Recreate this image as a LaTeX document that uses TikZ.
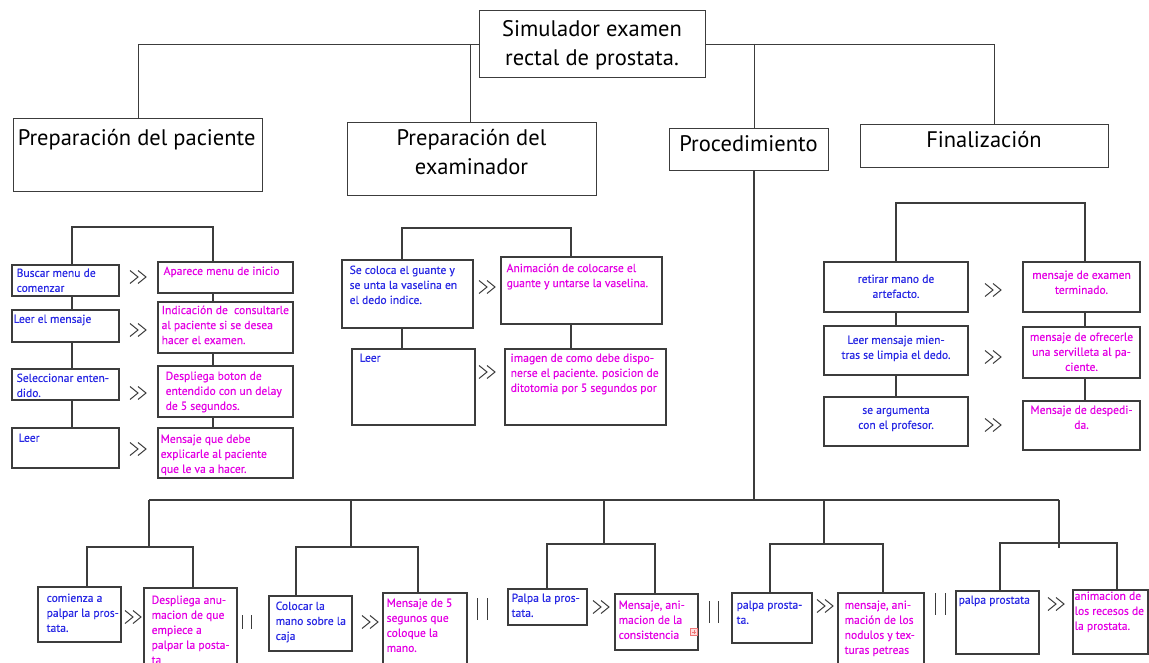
\documentclass[tikz,border=0pt]{standalone}
\usepackage{fontspec}
\setmainfont{PT Sans}
\newfontfamily\boxfont[FakeBold=0.35]{PT Sans}
\usetikzlibrary{fit}
\definecolor{tblue}{RGB}{40,40,228}
\definecolor{tmag}{RGB}{228,0,228}
\definecolor{lgray}{RGB}{60,60,60}
\definecolor{iconred}{RGB}{240,120,120}
\definecolor{iconfill}{RGB}{255,222,222}
\tikzset{
  boxst/.style={draw=lgray, line width=1.1pt, fill=white, inner sep=0pt},
  hdrbox/.style={draw=lgray, line width=0.9pt, fill=white, inner sep=0pt},
  link/.style={draw=lgray, line width=1.2pt},
  thinlink/.style={draw=lgray, line width=0.8pt},
  bt/.style={text=tblue, font=\boxfont\fontsize{11.6}{15}\selectfont, align=left, inner sep=0pt, anchor=north west},
  mt/.style={text=tmag, font=\boxfont\fontsize{11.6}{15}\selectfont, align=left, inner sep=0pt, anchor=north west},
  hdr/.style={font=\fontsize{22.5}{29}\selectfont, text=black, inner sep=0pt, align=center, anchor=north},
  chevst/.style={draw=lgray, line width=1pt},
}
\newcommand\mybox[5]{\node[boxst, fit={(#2,#3)(#4,#5)}] (#1) {};}
\newcommand\myhbox[5]{\node[hdrbox, fit={(#2,#3)(#4,#5)}] (#1) {};}
\newcommand\txtnw[5]{\node[#1] (#2-t) at ([xshift=#3pt,yshift=-#4pt]#2.north west) {#5};}
\newcommand\txtc[4]{\node[#1, align=center, anchor=north] (#2-t) at ([yshift=-#3pt]#2.north) {#4};}
\newcommand\chevs[2]{\draw[chevst] (#1-8,#2-6.5) -- (#1,#2) -- (#1-8,#2+6.5) (#1,#2-6.5) -- (#1+8,#2) -- (#1,#2+6.5);}
\newcommand\bars[4]{\draw[chevst] (#1,#3) -- (#1,#4) (#2,#3) -- (#2,#4);}
\begin{document}
\begin{tikzpicture}[x=1pt, y=-1pt]
\clip (0,0) rectangle (1149,663);
\fill[white] (0,0) rectangle (1149,663);

% ---------- header boxes ----------
\myhbox{H1}{13}{118}{262}{191}
\myhbox{H2}{347}{122}{596}{195}
\myhbox{H3}{669}{128}{828}{170}
\myhbox{H4}{860}{124}{1108}{167}

\coordinate (tl) at (138,44);
\coordinate (tr) at (994,44);
\coordinate (t2) at (470,44);
\coordinate (t3) at (754,44);
\draw[thinlink] (tl |- H1.north) -- (tl) -- (tr) -- (tr |- H4.north);
\draw[thinlink] (t2) -- (t2 |- H2.north);
\draw[thinlink] (t3) -- (t3 |- H3.north);

\myhbox{H0}{479}{10}{705}{77}
\node[hdr] (H0-t) at ([yshift=-11pt]H0.north) {Simulador examen\\rectal de prostata.};
\node[hdr, anchor=north west] (H1-t) at ([xshift=5pt,yshift=-12pt]H1.north west) {Preparación del paciente};
\node[hdr] (H2-t) at ([yshift=-8pt]H2.north) {Preparación del\\examinador};
\node[hdr] (H3-t) at ([yshift=-8pt]H3.north) {Procedimiento};
\node[hdr] (H4-t) at ([yshift=-8pt]H4.north) {Finalización};

% ---------- left column ----------
\mybox{L1}{12}{265}{119}{296}
\mybox{L2}{12}{310}{119}{342}
\mybox{L3}{12}{369}{119}{400}
\mybox{L4}{12}{428}{119}{468}
\mybox{R1}{158}{262}{293}{293}
\mybox{R2}{158}{302}{293}{353}
\mybox{R3}{158}{366}{293}{417}
\mybox{R4}{158}{428}{293}{478}
\coordinate (lbl) at (72,227);
\coordinate (lbr) at (213,227);
\draw[link] (lbl |- L1.north) -- (lbl) -- (lbr) -- (lbr |- R1.north);
\draw[link] (lbl |- L1.south) -- (lbl |- L2.north);
\draw[link] (lbl |- L2.south) -- (lbl |- L3.north);
\draw[link] (lbl |- L3.south) -- (lbl |- L4.north);
\draw[link] (lbr |- R1.south) -- (lbr |- R2.north);
\draw[link] (lbr |- R2.south) -- (lbr |- R3.north);
\draw[link] (lbr |- R3.south) -- (lbr |- R4.north);
\txtnw{bt}{L1}{5}{4}{Buscar menu de\\comenzar}
\txtnw{bt}{L2}{2}{5}{Leer el mensaje}
\txtnw{bt}{L3}{5}{5}{Seleccionar enten-\\dido.}
\txtnw{bt}{L4}{7}{6}{Leer}
\txtnw{mt}{R1}{6}{5}{Aparece menu de inicio}
\txtnw{mt}{R2}{4}{4}{Indicación de \ consultarle\\al paciente si se desea\\hacer el examen.}
\txtnw{mt}{R3}{8}{6}{Despliega boton de\\entendido con un delay\\de 5 segundos.}
\txtnw{mt}{R4}{3}{7}{Mensaje que debe\\explicarle al paciente\\que le va a hacer.}
\chevs{138}{277}
\chevs{138}{330}
\chevs{138}{393}
\chevs{138}{449}

% ---------- middle column ----------
\mybox{M1}{342}{260}{473}{328}
\mybox{M2}{501}{257}{662}{324}
\mybox{M3}{352}{349}{475}{425}
\mybox{M4}{505}{349}{666}{425}
\coordinate (mbl) at (402,228);
\coordinate (mbr) at (571,228);
\draw[link] (mbl |- M1.north) -- (mbl) -- (mbr) -- (mbr |- M2.north);
\draw[link] (mbl |- M1.south) -- (mbl |- M3.north);
\draw[link] (mbr |- M2.south) -- (mbr |- M4.north);
\txtnw{bt}{M1}{8}{6}{Se coloca el guante y\\se unta la vaselina en\\el dedo indice.}
\txtnw{mt}{M2}{6}{7}{Animación de colocarse el\\guante y untarse la vaselina.}
\txtnw{bt}{M3}{8}{5}{Leer}
\txtnw{mt}{M4}{6}{5}{imagen de como debe dispo-\\nerse el paciente. posicion de\\ditotomia por 5 segundos por}
\chevs{487}{287}
\chevs{487}{372}

% ---------- right column ----------
\mybox{F1}{824}{262}{968}{312}
\mybox{F2}{824}{326}{968}{375}
\mybox{F3}{824}{397}{968}{446}
\mybox{F4}{1023}{262}{1140}{312}
\mybox{F5}{1023}{327}{1140}{378}
\mybox{F6}{1023}{401}{1140}{450}
\coordinate (fbl) at (896,203);
\coordinate (fbr) at (1085,203);
\draw[link] (fbl |- F1.north) -- (fbl) -- (fbr) -- (fbr |- F4.north);
\draw[link] (fbl |- F1.south) -- (fbl |- F2.north);
\draw[link] (fbl |- F2.south) -- (fbl |- F3.north);
\draw[link] (fbr |- F4.south) -- (fbr |- F5.north);
\draw[link] (fbr |- F5.south) -- (fbr |- F6.north);
\txtc{bt}{F1}{13}{retirar mano de\\artefacto.}
\txtc{bt}{F2}{10}{Leer mensaje mien-\\tras se limpia el dedo.}
\txtc{bt}{F3}{10}{se argumenta\\con el profesor.}
\txtc{mt}{F4}{9}{mensaje de examen\\terminado.}
\txtc{mt}{F5}{6}{mensaje de ofrecerle\\una servilleta al pa-\\ciente.}
\txtc{mt}{F6}{5}{Mensaje de despedi-\\da.}
\chevs{993}{290}
\chevs{993}{357}
\chevs{993}{425}

% ---------- bottom row ----------
\mybox{B1}{38}{587}{121}{642}
\mybox{B2}{144}{588}{237}{680}
\mybox{B3}{269}{596}{352}{651}
\mybox{B4}{383}{593}{467}{680}
\mybox{B5}{508}{589}{587}{625}
\mybox{B6}{615}{594}{698}{650}
\mybox{B7}{732}{593}{812}{643}
\mybox{B8}{838}{593}{924}{680}
\mybox{B9}{956}{591}{1039}{654}
\mybox{B10}{1073}{590}{1148}{654}

\coordinate (pb) at (754,500);
\coordinate (bl) at (149,500);
\coordinate (br) at (1059,500);
\draw[link] (pb |- H3.south) -- (pb);
\draw[link] (bl) -- (br);

\coordinate (g1) at (149,500);
\coordinate (g1l) at (87,547);
\coordinate (g1r) at (193,547);
\draw[link] (g1) -- (g1 |- g1l);
\draw[link] (g1l |- B1.north) -- (g1l) -- (g1r) -- (g1r |- B2.north);

\coordinate (g2) at (351,500);
\coordinate (g2l) at (296,547);
\coordinate (g2r) at (418,547);
\draw[link] (g2) -- (g2 |- g2l);
\draw[link] (g2l |- B3.north) -- (g2l) -- (g2r) -- (g2r |- B4.north);

\coordinate (g3) at (604,500);
\coordinate (g3l) at (547,544);
\coordinate (g3r) at (655,544);
\draw[link] (g3) -- (g3 |- g3l);
\draw[link] (g3l |- B5.north) -- (g3l) -- (g3r) -- (g3r |- B6.north);

\coordinate (g4) at (824,500);
\coordinate (g4l) at (770,544);
\coordinate (g4r) at (883,544);
\draw[link] (g4) -- (g4 |- g4l);
\draw[link] (g4l |- B7.north) -- (g4l) -- (g4r) -- (g4r |- B8.north);

\coordinate (g5) at (1059,500);
\coordinate (g5e) at (1059,548);
\coordinate (g5l) at (1000,543);
\coordinate (g5r) at (1117,543);
\draw[link] (g5) -- (g5e);
\draw[link] (g5l |- B9.north) -- (g5l) -- (g5r) -- (g5r |- B10.north);

\txtnw{bt}{B1}{9}{7}{comienza a\\palpar la pros-\\tata.}
\txtnw{mt}{B2}{8}{8}{Despliega anu-\\macion de que\\empiece a\\palpar la posta-\\ta}
\txtnw{bt}{B3}{7}{6}{Colocar la\\mano sobre la\\caja}
\txtnw{mt}{B4}{4}{6}{Mensaje de 5\\segunos que\\coloque la\\mano.}
\txtnw{bt}{B5}{4}{5}{Palpa la pros-\\tata.}
\txtnw{mt}{B6}{4}{7}{Mensaje, ani-\\macion de la\\consistencia}
\txtnw{bt}{B7}{5}{8}{palpa prosta-\\ta.}
\txtnw{mt}{B8}{7}{8}{mensaje, ani-\\mación de los\\nodulos y tex-\\turas petreas}
\txtnw{bt}{B9}{3}{5}{palpa prostata}
\txtnw{mt}{B10}{2}{2}{animacion de\\los recesos de\\la prostata.}

\chevs{133}{617}
\chevs{370}{622}
\chevs{601}{607}
\chevs{825}{606}
\chevs{1056}{604}
\bars{242}{251}{615}{629}
\bars{477}{487}{598}{620}
\bars{709}{718}{601}{623}
\bars{935}{945}{593}{615}

\node[draw=iconred, fill=iconfill, line width=0.6pt, minimum size=7pt, inner sep=0pt] (icon) at (694,632) {};
\draw[iconred, line width=0.7pt] ([xshift=-2pt]icon.center) -- ([xshift=2pt]icon.center);
\draw[iconred, line width=0.7pt] ([yshift=-2pt]icon.center) -- ([yshift=2pt]icon.center);
\end{tikzpicture}
\end{document}
